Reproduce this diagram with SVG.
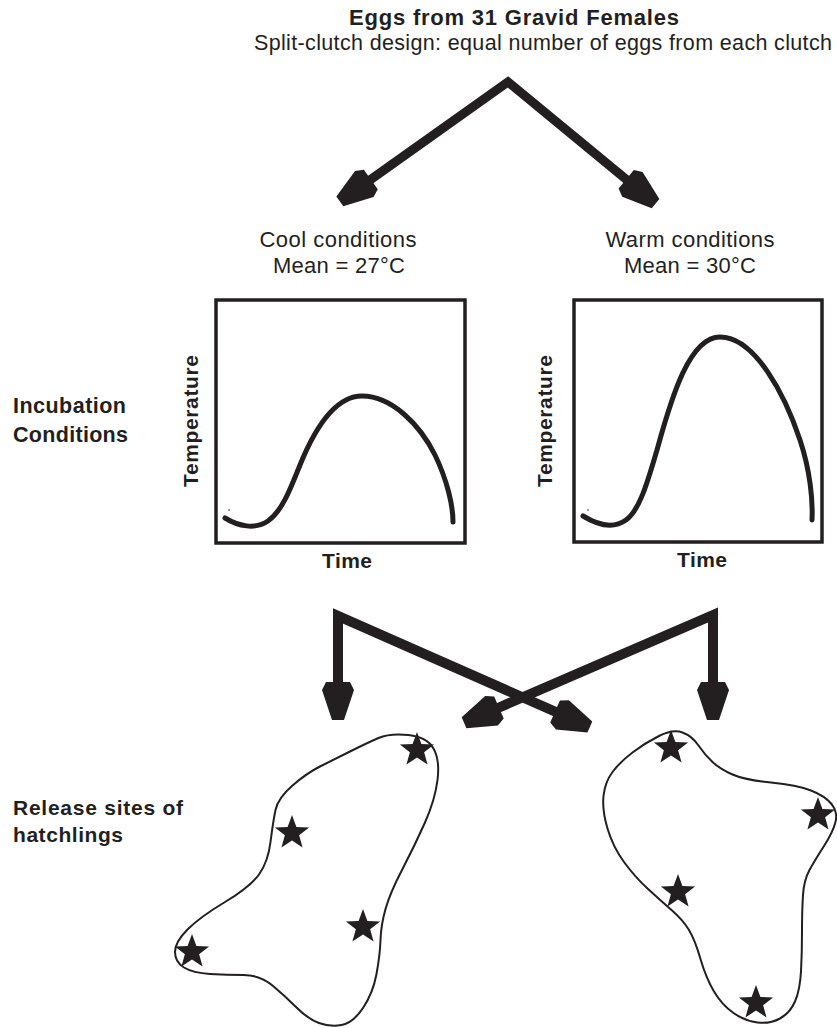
<svg xmlns="http://www.w3.org/2000/svg" xmlns:xlink="http://www.w3.org/1999/xlink" width="837" height="1028" viewBox="0 0 837 1028">
<style>
.t{font-family:"Liberation Sans",Arial,Helvetica,sans-serif;fill:#231f20}
.b{font-weight:bold}
.box{fill:none;stroke:#231f20;stroke-width:3.5}
.curve{fill:none;stroke:#231f20;stroke-width:5;stroke-linecap:round}
.shaft{fill:none;stroke:#231f20;stroke-linejoin:miter;stroke-miterlimit:10}
.blob{fill:none;stroke:#231f20;stroke-width:2}
.ink{fill:#231f20}
</style>
<defs>
<path id="head" class="ink" d="M-1,-12 L7,-16 L37,-6 L37,6 L7,16 L-1,12 Z"/>
<path id="star" class="ink" d="M0,-18 L4.41,-6.07 L17.12,-5.56 L7.13,2.32 L10.58,14.56 L0,7.5 L-10.58,14.56 L-7.13,2.32 L-17.12,-5.56 L-4.41,-6.07 Z"/>
</defs>
<rect width="837" height="1028" fill="#ffffff"/>

<g id="title">
<text class="t b" x="514" y="25" font-size="22" text-anchor="middle" textLength="330">Eggs from 31 Gravid Females</text>
<text class="t" x="543" y="50" font-size="21.5" text-anchor="middle" textLength="578">Split-clutch design: equal number of eggs from each clutch</text>
</g>

<g id="cool-label">
<text class="t" x="338" y="247" font-size="22" text-anchor="middle" textLength="157">Cool conditions</text>
<text class="t" x="339" y="273" font-size="22" text-anchor="middle" textLength="132">Mean = 27°C</text>
</g>
<g id="warm-label">
<text class="t" x="690" y="247" font-size="22" text-anchor="middle" textLength="169">Warm conditions</text>
<text class="t" x="690" y="273" font-size="22" text-anchor="middle" textLength="132">Mean = 30°C</text>
</g>

<g id="incubation-label">
<text class="t b" x="13" y="413" font-size="21.5" textLength="113">Incubation</text>
<text class="t b" x="13" y="442" font-size="21.5" textLength="115">Conditions</text>
</g>

<g id="cool-graph">
<rect class="box" x="216" y="300" width="249" height="243"/>
<path class="curve" d="M225,518 C238,526 255,530 268,521 C282,511 290,490 300,465 C315,428 335,396 362,396 C392,396 420,425 435,455 C447,480 453,505 453,522"/>
<circle class="ink" cx="229" cy="510" r="0.8"/>
<text class="t b" transform="translate(198,421) rotate(-90)" font-size="21" text-anchor="middle" textLength="132">Temperature</text>
<text class="t b" x="347" y="568" font-size="21" text-anchor="middle" textLength="50">Time</text>
</g>

<g id="warm-graph">
<rect class="box" x="574" y="300" width="248" height="242"/>
<path class="curve" d="M583,516 C596,524 612,530 626,520 C640,510 648,480 657,450 C672,395 690,337 720,337 C755,337 785,395 800,440 C810,470 813,500 812,520"/>
<circle class="ink" cx="588" cy="510" r="0.8"/>
<text class="t b" transform="translate(552,421) rotate(-90)" font-size="21" text-anchor="middle" textLength="132">Temperature</text>
<text class="t b" x="702" y="567" font-size="21" text-anchor="middle" textLength="50">Time</text>
</g>

<g id="release-label">
<text class="t b" x="13" y="815" font-size="21" textLength="170">Release sites of</text>
<text class="t b" x="13" y="842" font-size="21" textLength="110">hatchlings</text>
</g>

<g id="cool-release-sites">
<path class="blob" d="M378.5,738 Q390,733 408.5,735 Q427,737 433.5,748.5 Q440,760 437.5,780 Q435,800 425,822.5 Q415,845 402.5,869 Q390,893 385.5,909 Q381,925 380.5,940 Q380,955 376.5,974 Q373,993 363,1008 Q353,1023 341.5,1025 Q330,1027 319,1023 Q308,1019 296.5,1007.5 Q285,996 272.5,985.5 Q260,975 243.5,975 Q227,975 210,974 Q193,973 184,967.5 Q175,962 175,952 Q175,942 187.5,929.5 Q200,917 225,902 Q250,887 259,874.5 Q268,862 270.5,842 Q273,822 275.5,810 Q278,798 292.5,785.5 Q307,773 320,766.5 Q333,760 350,751.5 Q367,743 378.5,738 Z"/>
<use xlink:href="#star" href="#star" x="417" y="750"/>
<use xlink:href="#star" href="#star" x="292" y="833"/>
<use xlink:href="#star" href="#star" x="363" y="927"/>
<use xlink:href="#star" href="#star" x="192" y="952"/>
</g>

<g id="warm-release-sites">
<path class="blob" d="M659,736 Q673,729 682.5,732.5 Q692,736 698.5,745.5 Q705,755 712.5,762 Q720,769 732.5,774.5 Q745,780 771,782.5 Q797,785 811,790.5 Q825,796 831.5,804 Q838,812 835.5,822 Q833,832 824,846 Q815,860 809.5,870 Q804,880 803,895 Q802,910 802,931.5 Q802,953 801,971.5 Q800,990 795,1001.5 Q790,1013 780,1018.5 Q770,1024 757.5,1022.5 Q745,1021 733.5,1013 Q722,1005 714,991.5 Q706,978 700.5,959 Q695,940 689,930 Q683,920 671.5,910 Q660,900 647.5,888.5 Q635,877 624,862 Q613,847 607.5,828.5 Q602,810 603.5,796 Q605,782 612.5,772 Q620,762 632.5,752.5 Q645,743 659,736 Z"/>
<use xlink:href="#star" href="#star" x="671" y="748"/>
<use xlink:href="#star" href="#star" x="818" y="815"/>
<use xlink:href="#star" href="#star" x="678" y="892"/>
<use xlink:href="#star" href="#star" x="756" y="1003"/>
</g>

<g id="connectors">
<path class="shaft" stroke="#231f20" stroke-width="9" d="M370,180 L508,82 L627,180"/>
<use xlink:href="#head" href="#head" transform="translate(370,180) rotate(144.6)"/>
<use xlink:href="#head" href="#head" transform="translate(627,180) rotate(39.5)"/>
<path class="shaft" stroke="#231f20" stroke-width="10" d="M338,684 L338,616 L556,712"/>
<path class="shaft" stroke="#231f20" stroke-width="10" d="M713,684 L713,615 L498,708"/>
<use xlink:href="#head" href="#head" transform="translate(338,683) rotate(90)"/>
<use xlink:href="#head" href="#head" transform="translate(713,683) rotate(90)"/>
<use xlink:href="#head" href="#head" transform="translate(556,712) rotate(23.8)"/>
<use xlink:href="#head" href="#head" transform="translate(498,708) rotate(156.6)"/>
</g>
</svg>
